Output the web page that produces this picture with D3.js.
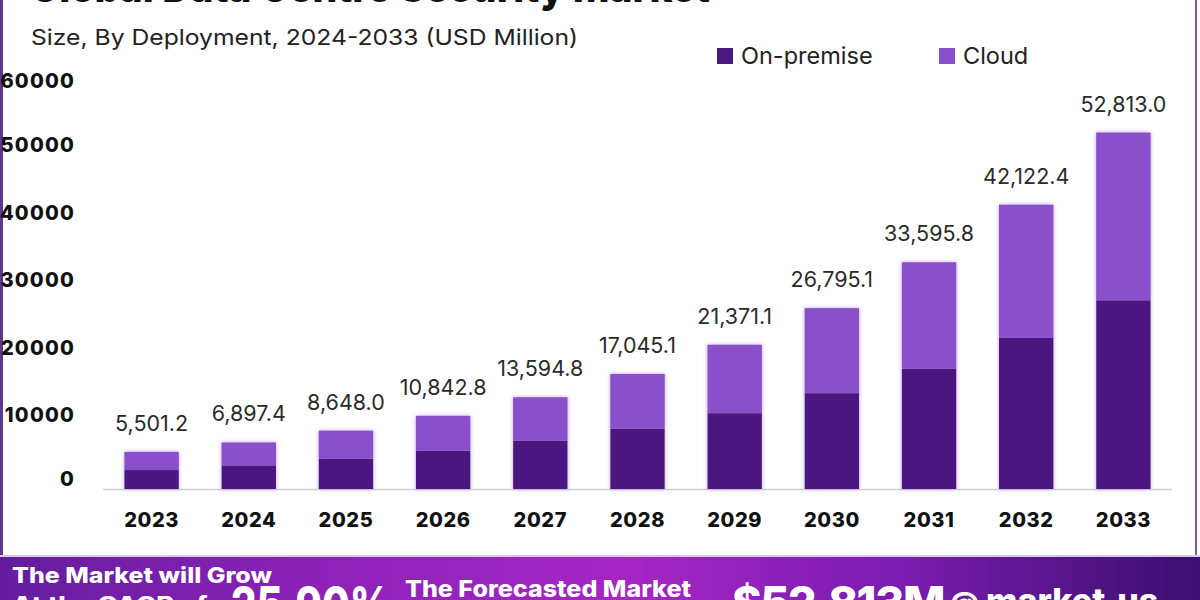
<!DOCTYPE html>
<html>
<head>
<meta charset="utf-8">
<script src="https://cdn.jsdelivr.net/npm/d3@7"></script>
<style>
  html, body { margin: 0; padding: 0; background: #fff; }
  svg { display: block; }
  text { font-family: Inter, "Open Sans", "Liberation Sans", sans-serif; }
</style>
</head>
<body>
<svg id="chart" width="1200" height="600"></svg>
<script>
// ---- data ----
const years = ["2023","2024","2025","2026","2027","2028","2029","2030","2031","2032","2033"];
const totals = [5501.2, 6897.4, 8648.0, 10842.8, 13594.8, 17045.1, 21371.1, 26795.1, 33595.8, 42122.4, 52813.0];
const onPremise = [2810, 3500, 4480, 5660, 7190, 8920, 11240, 14200, 17800, 22380, 27960];
const cloud = [2691.2, 3397.4, 4168.0, 5182.8, 6404.8, 8125.1, 10131.1, 12595.1, 15795.8, 19742.4, 24853.0];
const seriesNames = ["On-premise", "Cloud"];
const yTicks = [0, 10000, 20000, 30000, 40000, 50000, 60000];
const colors = ["#4b1780", "#8a4fcb"];

const svg = d3.select("#chart");
const defs = svg.append("defs");

// glow filter for bars
const f = defs.append("filter").attr("id", "glow").attr("x", "-20%").attr("y", "-20%").attr("width", "140%").attr("height", "140%");
f.append("feDropShadow").attr("dx", 0).attr("dy", 0).attr("stdDeviation", 2.2)
  .attr("flood-color", "#b48ae0").attr("flood-opacity", 0.8);

// banner gradient
const g = defs.append("linearGradient").attr("id", "banner").attr("x1", "0%").attr("x2", "100%");
g.append("stop").attr("offset", "0%").attr("stop-color", "#641d9e");
g.append("stop").attr("offset", "25%").attr("stop-color", "#8a22b6");
g.append("stop").attr("offset", "52%").attr("stop-color", "#a626c4");
g.append("stop").attr("offset", "75%").attr("stop-color", "#7a1cae");
g.append("stop").attr("offset", "100%").attr("stop-color", "#3a0f6e");

// frame borders
svg.append("rect").attr("x", 0).attr("y", 0).attr("width", 3).attr("height", 557).attr("fill", "#5b3a8e");
svg.append("rect").attr("x", 1195).attr("y", 0).attr("width", 2).attr("height", 557).attr("fill", "#7a5aa8");
svg.append("rect").attr("x", 0).attr("y", 555).attr("width", 1200).attr("height", 2).attr("fill", "#d9c9ea");

// title (cut off at top)
svg.append("text").attr("x", 30).attr("y", 2)
  .attr("font-size", 42).attr("font-weight", 800).attr("fill", "#111")
  .attr("textLength", 680).attr("lengthAdjust", "spacingAndGlyphs")
  .text("Global Data Centre Security Market");

// subtitle
svg.append("text").attr("x", 31).attr("y", 45)
  .attr("font-size", 22).attr("fill", "#222")
  .attr("textLength", 547).attr("lengthAdjust", "spacingAndGlyphs")
  .text("Size, By Deployment, 2024-2033 (USD Million)");

// scales
const x = d3.scaleBand().domain(years).range([103, 1172]).paddingInner(0.44).paddingOuter(0.22);
const y = d3.scaleLinear().domain([0, 60000]).range([489, 84]);

// y axis labels
const yAxis = svg.append("g").attr("transform", "translate(75,-6)")
  .call(d3.axisLeft(y).tickValues(yTicks).tickFormat(d3.format("d")).tickSize(0).tickPadding(0));
yAxis.select(".domain").remove();
yAxis.selectAll("text").attr("font-size", 20).attr("font-weight", 800).attr("fill", "#111")
  .attr("font-family", "Inter, sans-serif").attr("letter-spacing", 1.2)
  .attr("dy", (d, i) => (d === 0 ? "0.1em" : d === 60000 ? "0.45em" : "0.32em"));

// baseline
svg.append("line").attr("x1", 103).attr("x2", 1172).attr("y1", y(0) + 0.5).attr("y2", y(0) + 0.5)
  .attr("stroke", "#cfcfd6").attr("stroke-width", 1.5);

// stacked bars
const rows = years.map((yr, i) => ({ year: yr, "On-premise": onPremise[i], "Cloud": cloud[i] }));
const stacked = d3.stack().keys(seriesNames)(rows);
const layers = svg.append("g").attr("filter", "url(#glow)");
layers.selectAll("g").data(stacked).join("g").attr("fill", (d, i) => colors[i])
  .selectAll("rect").data(d => d).join("rect")
  .attr("x", d => x(d.data.year))
  .attr("width", x.bandwidth())
  .attr("y", d => y(d[1]))
  .attr("height", d => y(d[0]) - y(d[1]));

// value labels
svg.append("g").selectAll("text").data(years).join("text")
  .attr("x", d => x(d) + x.bandwidth() / 2)
  .attr("y", (d, i) => y(totals[i]) - 21)
  .attr("text-anchor", "middle").attr("font-size", 21.5).attr("fill", "#2a2a2a")
  .text((d, i) => d3.format(",.1f")(totals[i]));

// x axis labels
const xAxis = svg.append("g").attr("transform", `translate(0,${y(0) + 24})`)
  .call(d3.axisBottom(x).tickSize(0).tickPadding(0));
xAxis.select(".domain").remove();
xAxis.selectAll("text").attr("font-size", 20).attr("font-weight", 800).attr("fill", "#111")
  .attr("font-family", "Inter, sans-serif").attr("letter-spacing", 0.6);

// legend
const legendX = [717, 939];
const leg = svg.append("g").selectAll("g").data(seriesNames).join("g")
  .attr("transform", (d, i) => `translate(${legendX[i]},48)`);
leg.append("rect").attr("width", 16).attr("height", 16).attr("fill", (d, i) => colors[i]);
leg.append("text").attr("x", 24).attr("y", 15.5).attr("font-size", 23.5).attr("fill", "#222").text(d => d);

// bottom banner
svg.append("rect").attr("x", 0).attr("y", 557).attr("width", 1200).attr("height", 43).attr("fill", "url(#banner)");
const bt = svg.append("g").attr("fill", "#fff").attr("font-weight", 800);
bt.append("text").attr("x", 12).attr("y", 583).attr("font-size", 22)
  .attr("textLength", 260).attr("lengthAdjust", "spacingAndGlyphs").text("The Market will Grow");
bt.append("text").attr("x", 12).attr("y", 612).attr("font-size", 22)
  .attr("textLength", 205).attr("lengthAdjust", "spacingAndGlyphs").text("At the CAGR of:");
bt.append("text").attr("x", 231).attr("y", 622).attr("font-size", 50)
  .attr("textLength", 160).attr("lengthAdjust", "spacingAndGlyphs").text("25.90%");
bt.append("text").attr("x", 405).attr("y", 597).attr("font-size", 23)
  .attr("textLength", 286).attr("lengthAdjust", "spacingAndGlyphs").text("The Forecasted Market");
bt.append("text").attr("x", 732).attr("y", 619).attr("font-size", 45)
  .attr("letter-spacing", -1.5).text("$52,813M");
const logo = bt.append("text").attr("x", 950).attr("y", 613).attr("font-size", 34);
logo.append("tspan").attr("font-size", 28).text("@");
logo.append("tspan").attr("dx", 7).text("market.us");
</script>
</body>
</html>
